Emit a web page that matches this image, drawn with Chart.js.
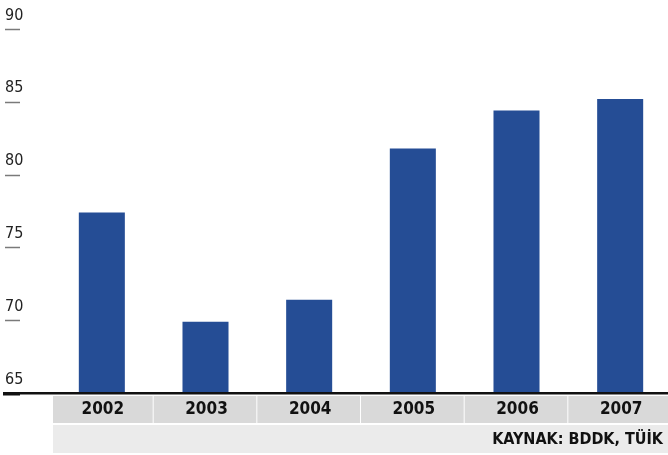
<!DOCTYPE html>
<html>
<head>
<meta charset="utf-8">
<script src="https://cdn.jsdelivr.net/npm/chart.js@4/dist/chart.umd.min.js"></script>
<style>
html,body{margin:0;padding:0;background:#fff;overflow:hidden}
</style>
</head>
<body>
<canvas id="myChart" width="672" height="455"></canvas>
<script>
var years=["2002","2003","2004","2005","2006","2007"]
var values=[77.4,69.9,71.4,81.8,84.4,85.2]
var yTicks=[65,70,75,80,85,90]
var source="KAYNAK: BDDK, TÜİK"

var fontFam="'Liberation Sans Narrow','DejaVu Sans Condensed','Roboto',sans-serif"

var tablePlugin={
    id:"table",
    afterDraw:function(chart){
        var ctx=chart.ctx
        var x=chart.scales.x
        var y=chart.scales.y
        var base=y.getPixelForValue(yTicks[0])
        ctx.save()
        // tick marks under labels
        ctx.strokeStyle="#7a7a7a"
        ctx.lineWidth=1.5
        $each(y.ticks,function(t){
            var py=Math.round(y.getPixelForValue(t.value))+0.5
            ctx.beginPath()
            ctx.moveTo(5,py)
            ctx.lineTo(20,py)
            ctx.stroke()
        })
        // baseline
        ctx.fillStyle="#111"
        ctx.fillRect(3,base-1,chart.width,2.5)
        ctx.fillRect(3,base-1,17,3.5)
        // year cells
        var w=x.getPixelForValue(1)-x.getPixelForValue(0)
        var left=x.getPixelForValue(0)-w/2+3
        years.forEach(function(yr,i){
            var cx=x.getPixelForValue(i)
            var l=Math.max(cx-w/2,left)
            ctx.fillStyle="#d9d9d9"
            ctx.fillRect(l,base+3,cx+w/2-l-1,27)
            ctx.fillStyle="#111"
            ctx.font="bold 17px "+fontFam
            ctx.textAlign="center"
            ctx.textBaseline="middle"
            ctx.fillText(yr,cx+1,base+17)
        })
        // source row
        ctx.fillStyle="#ebebeb"
        ctx.fillRect(left,base+32,chart.width-left,28)
        ctx.fillStyle="#111"
        ctx.font="bold 16px "+fontFam
        ctx.textAlign="right"
        ctx.fillText(source,668-5,base+47)
        ctx.restore()
    }
}

function $each(arr,fn){for(var i=0;i<arr.length;i++)fn(arr[i],i)}

var myChart=document.getElementById("myChart").getContext("2d")
var chart=new Chart(myChart,{
    type:"bar",
    data:{
        labels:years,
        datasets:[{
            data:values,
            backgroundColor:"#254d95",
            barPercentage:0.444,
            categoryPercentage:1
        }]
    },
    options:{
        responsive:false,
        animation:false,
        layout:{padding:{left:5,top:29,bottom:62,right:0}},
        plugins:{legend:{display:false},tooltip:{enabled:false}},
        scales:{
            x:{display:false},
            y:{
                min:65,
                max:90,
                afterBuildTicks:function(s){s.ticks=yTicks.map(function(v){return {value:v}})},
                afterFit:function(s){s.width=45},
                grid:{display:false},
                border:{display:false},
                ticks:{
                    crossAlign:"far",
                    labelOffset:-13.5,
                    color:"#222",
                    font:{family:fontFam,size:16}
                }
            }
        }
    },
    plugins:[tablePlugin]
})
</script>
</body>
</html>
